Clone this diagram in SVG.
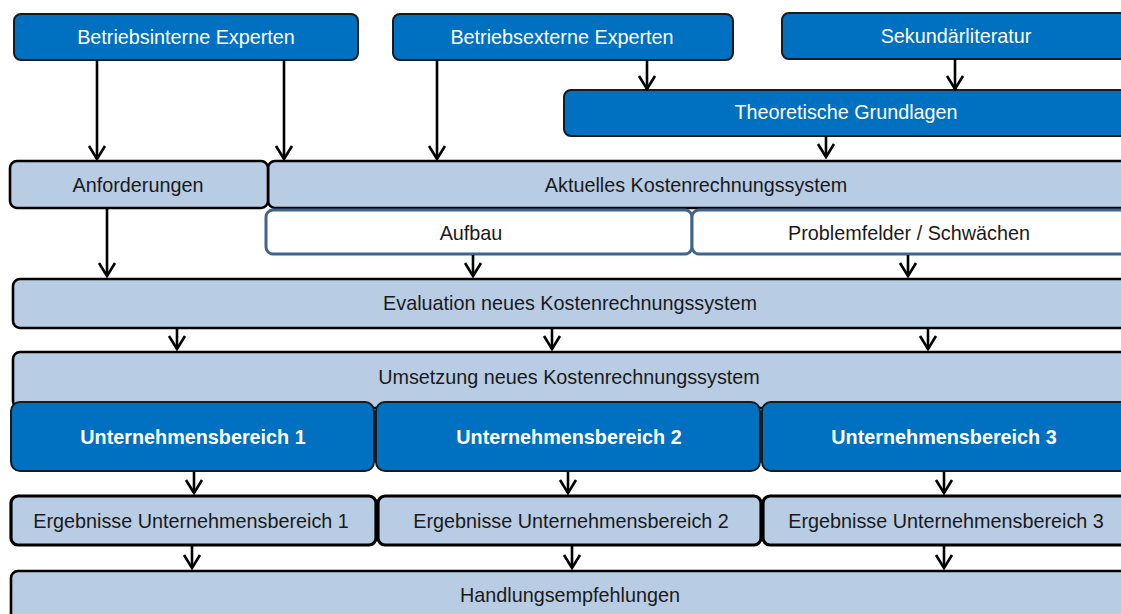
<svg xmlns="http://www.w3.org/2000/svg" width="1121" height="614" viewBox="0 0 1121 614">
<style>
text{font-family:"Liberation Sans",Arial,sans-serif;font-size:19.8px;text-anchor:middle}
.dark rect{fill:#0070C0;stroke:#1a1a1a;stroke-width:2}
.dark text{fill:#ffffff}
.bold text{font-weight:bold}
.light rect{fill:#B8CCE4;stroke:#000;stroke-width:2.6}
.light text{fill:#1a1a1a}
.thick rect{stroke-width:3.2}
.white rect{fill:#ffffff;stroke:#41648F;stroke-width:3}
.white text{fill:#1a1a1a}
#connectors line{stroke:#000;stroke-width:2.6;fill:none}
</style>
<defs>
<marker id="arr" markerUnits="userSpaceOnUse" orient="auto" refX="0" refY="0" overflow="visible">
<path d="M-13,-8 L0,0 L-13,8" fill="none" stroke="#000" stroke-width="2.6"/>
</marker>
</defs>
<rect width="1121" height="614" fill="#ffffff"/>

<g id="betriebsinterne" class="dark"><rect x="14" y="14" width="344" height="46" rx="7"/><text x="186" y="44">Betriebsinterne Experten</text></g>
<g id="betriebsexterne" class="dark"><rect x="393" y="14" width="340" height="46" rx="7"/><text x="562" y="44">Betriebsexterne Experten</text></g>
<g id="sekundaer" class="dark"><rect x="782" y="13" width="360" height="46" rx="7"/><text x="956" y="43">Sekundärliteratur</text></g>
<g id="theoretische" class="dark"><rect x="564" y="90" width="580" height="46" rx="7"/><text x="846" y="119">Theoretische Grundlagen</text></g>

<g id="aktuelles" class="light"><rect x="268" y="161" width="880" height="47" rx="7"/><text x="696" y="192">Aktuelles Kostenrechnungssystem</text></g>
<g id="anforderungen" class="light"><rect x="10" y="161" width="258" height="47" rx="7"/><text x="138" y="192">Anforderungen</text></g>
<g id="aufbau" class="white"><rect x="266" y="210" width="426" height="44" rx="7"/><text x="471" y="240">Aufbau</text></g>
<g id="problemfelder" class="white"><rect x="692" y="210" width="450" height="44" rx="7"/><text x="909" y="240">Problemfelder / Schwächen</text></g>

<g id="evaluation" class="light"><rect x="13" y="279" width="1130" height="49" rx="7"/><text x="570" y="310">Evaluation neues Kostenrechnungssystem</text></g>
<g id="umsetzung" class="light"><rect x="13" y="352" width="1130" height="56" rx="7"/><text x="569" y="384">Umsetzung neues Kostenrechnungssystem</text></g>

<g id="ub1" class="dark bold"><rect x="11" y="402" width="363" height="69" rx="9"/><text x="193" y="444">Unternehmensbereich 1</text></g>
<g id="ub2" class="dark bold"><rect x="376" y="402" width="384" height="69" rx="9"/><text x="569" y="444">Unternehmensbereich 2</text></g>
<g id="ub3" class="dark bold"><rect x="762" y="402" width="380" height="69" rx="9"/><text x="944" y="444">Unternehmensbereich 3</text></g>

<g id="erg1" class="light thick"><rect x="11" y="496" width="365" height="49" rx="7"/><text x="191" y="528">Ergebnisse Unternehmensbereich 1</text></g>
<g id="erg2" class="light thick"><rect x="378" y="496" width="383" height="49" rx="7"/><text x="571" y="528">Ergebnisse Unternehmensbereich 2</text></g>
<g id="erg3" class="light thick"><rect x="763" y="496" width="380" height="49" rx="7"/><text x="946" y="528">Ergebnisse Unternehmensbereich 3</text></g>

<g id="handlung" class="light"><rect x="11" y="571" width="1130" height="60" rx="7"/><text x="570" y="602">Handlungsempfehlungen</text></g>

<g id="connectors">
<line x1="97" y1="60" x2="97" y2="159" marker-end="url(#arr)"/>
<line x1="284" y1="60" x2="284" y2="159" marker-end="url(#arr)"/>
<line x1="437" y1="60" x2="437" y2="159" marker-end="url(#arr)"/>
<line x1="647" y1="60" x2="647" y2="89" marker-end="url(#arr)"/>
<line x1="955" y1="59" x2="955" y2="89" marker-end="url(#arr)"/>
<line x1="826" y1="136" x2="826" y2="157" marker-end="url(#arr)"/>
<line x1="107" y1="209" x2="107" y2="276" marker-end="url(#arr)"/>
<line x1="473" y1="255" x2="473" y2="276" marker-end="url(#arr)"/>
<line x1="908" y1="255" x2="908" y2="276" marker-end="url(#arr)"/>
<line x1="177" y1="329" x2="177" y2="349" marker-end="url(#arr)"/>
<line x1="552" y1="329" x2="552" y2="349" marker-end="url(#arr)"/>
<line x1="928" y1="329" x2="928" y2="349" marker-end="url(#arr)"/>
<line x1="194" y1="472" x2="194" y2="493" marker-end="url(#arr)"/>
<line x1="568" y1="472" x2="568" y2="493" marker-end="url(#arr)"/>
<line x1="944" y1="472" x2="944" y2="493" marker-end="url(#arr)"/>
<line x1="192" y1="546" x2="192" y2="568" marker-end="url(#arr)"/>
<line x1="572" y1="546" x2="572" y2="568" marker-end="url(#arr)"/>
<line x1="944" y1="546" x2="944" y2="568" marker-end="url(#arr)"/>
</g>
</svg>
